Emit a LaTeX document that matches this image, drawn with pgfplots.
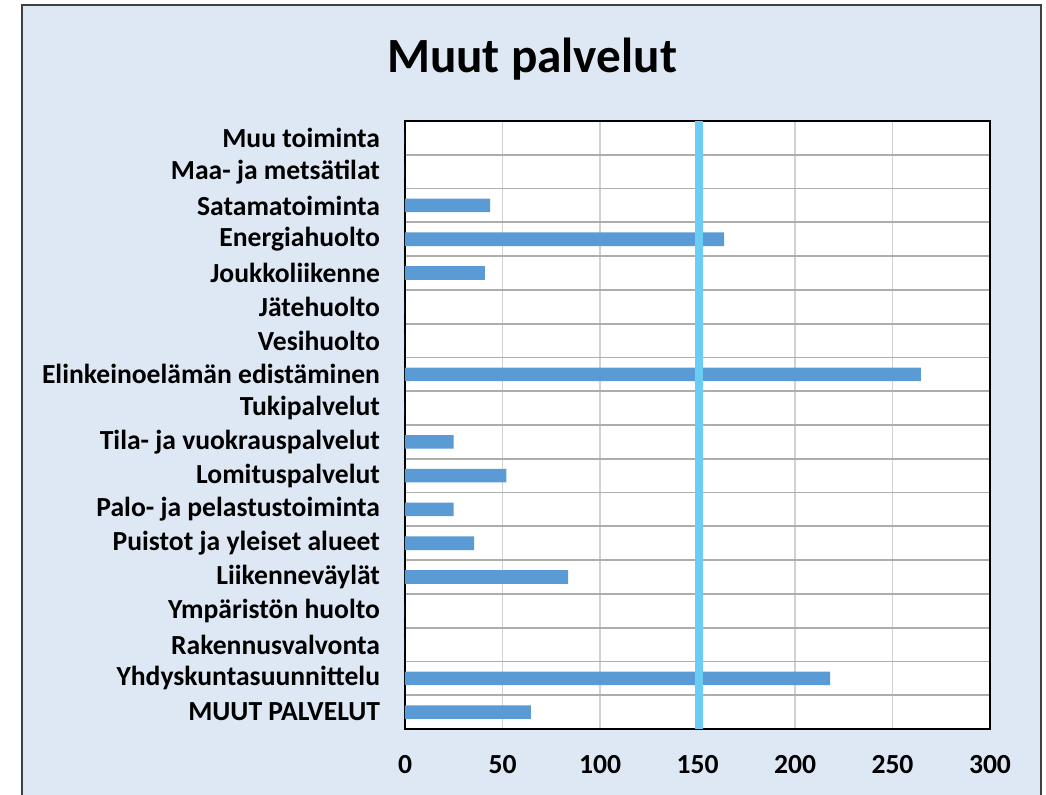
\documentclass[border=0pt]{standalone}
\usepackage{pgfplots}
\pgfplotsset{compat=1.18}
\usepackage{fontspec}
\setmainfont{Carlito}
\definecolor{bg}{HTML}{DEE8F4}
\definecolor{barblue}{HTML}{5B9BD5}
\definecolor{refline}{HTML}{6BCDF4}
\begin{document}
\begin{tikzpicture}
% 1 px of the reference = 0.5pt, origin at top left
\useasboundingbox (0,0) rectangle (523pt,-397.5pt);
\fill[bg] (11pt,-2.5pt) rectangle (520.5pt,-397.5pt);
\draw[black!75,line width=1pt] (11pt,-397.5pt) -- (11pt,-2.5pt) -- (520.5pt,-2.5pt) -- (520.5pt,-397.5pt);
\node[font=\bfseries\fontsize{24.6}{28}\selectfont, anchor=base] at (266pt,-36.5pt) {Muut palvelut};
\begin{axis}[
  at={(202.5pt,-364.5pt)}, anchor=south west,
  scale only axis, width=292.5pt, height=304pt,
  xbar, bar width=6.8pt,
  xmin=0, xmax=300, ymin=-0.5, ymax=17.5,
  enlarge y limits=false,
  xtick={0,50,...,300},
  ytick={0,...,17},
  yticklabels={MUUT PALVELUT,Yhdyskuntasuunnittelu,Rakennusvalvonta,Ympäristön huolto,Liikenneväylät,Puistot ja yleiset alueet,Palo- ja pelastustoiminta,Lomituspalvelut,Tila- ja vuokrauspalvelut,Tukipalvelut,Elinkeinoelämän edistäminen,Vesihuolto,Jätehuolto,Joukkoliikenne,Energiahuolto,Satamatoiminta,Maa- ja metsätilat,Muu toiminta},
  minor ytick={-0.5,0.5,...,17.5},
  xmajorgrids, yminorgrids,
  major grid style={black!18, line width=0.8pt},
  minor grid style={black!32, line width=0.9pt},
  major tick length=0pt, minor tick length=0pt,
  tick label style={font=\bfseries\fontsize{13.8}{16}\selectfont},
  yticklabel style={xshift=-9pt},
  xticklabel style={yshift=-9.5pt},
  /pgf/number format/assume math mode=true,
  axis line style={black, line width=1.2pt},
  axis background/.style={fill=white},
]
\addplot[fill=barblue, draw=none] coordinates {
  (64.6,0) (218,1) (0,2) (0,3) (83.6,4) (35.4,5) (25,6) (52,7) (25,8)
  (0,9) (264.6,10) (0,11) (0,12) (41,13) (163.6,14) (43.6,15) (0,16) (0,17)
};
\addplot[refline, line width=4pt, sharp plot, forget plot] coordinates {(151,-0.5) (151,17.5)};
\end{axis}
\end{tikzpicture}
\end{document}
